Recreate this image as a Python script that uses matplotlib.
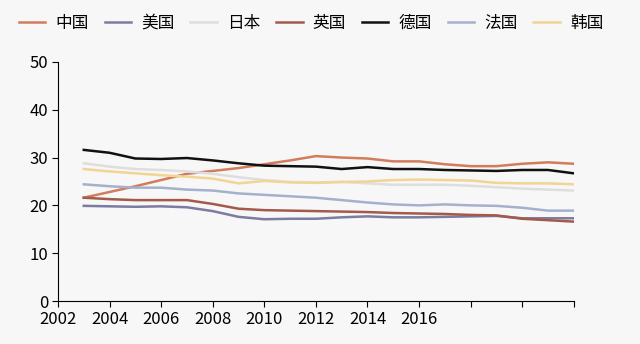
import numpy as np
import matplotlib.pyplot as plt

plt.rcParams['font.family'] = ['Noto Sans CJK SC', 'DejaVu Sans']

years = list(range(2003, 2023))

china   = [21.6, 22.8, 24.0, 25.3, 26.6, 27.2, 27.8, 28.6, 29.4, 30.3, 30.0, 29.8, 29.2, 29.2, 28.6, 28.2, 28.2, 28.7, 29.0, 28.7]
usa     = [19.9, 19.8, 19.7, 19.8, 19.6, 18.8, 17.6, 17.1, 17.2, 17.2, 17.5, 17.7, 17.5, 17.5, 17.6, 17.7, 17.8, 17.3, 17.3, 17.3]
japan   = [28.8, 28.1, 27.6, 27.4, 27.1, 26.6, 25.9, 25.3, 24.9, 24.8, 24.9, 24.6, 24.3, 24.3, 24.3, 24.1, 23.8, 23.5, 23.3, 23.1]
uk      = [21.6, 21.3, 21.1, 21.1, 21.1, 20.3, 19.3, 19.0, 18.9, 18.8, 18.7, 18.6, 18.4, 18.3, 18.2, 18.0, 17.9, 17.2, 16.9, 16.6]
germany = [31.6, 31.0, 29.8, 29.7, 29.9, 29.4, 28.8, 28.3, 28.2, 28.1, 27.6, 28.0, 27.6, 27.6, 27.4, 27.3, 27.2, 27.4, 27.4, 26.7]
france  = [24.4, 24.0, 23.7, 23.7, 23.3, 23.1, 22.5, 22.2, 21.9, 21.6, 21.1, 20.6, 20.2, 20.0, 20.2, 20.0, 19.9, 19.5, 18.9, 18.9]
korea   = [27.6, 27.1, 26.7, 26.3, 26.0, 25.6, 24.6, 25.1, 24.8, 24.7, 24.9, 25.0, 25.3, 25.4, 25.3, 25.2, 24.7, 24.6, 24.6, 24.4]

names = ['中国', '美国', '日本', '英国', '德国', '法国', '韩国']
colors = ['#d27c5c', '#7c7ca0', '#dedede', '#a35a4a', '#111111', '#a4b0cc', '#f2d494']
series = [china, usa, japan, uk, germany, france, korea]

xticks = list(range(2002, 2023, 2))
xlabels = [str(y) if y <= 2016 else '' for y in xticks]

fig = plt.figure(figsize=(6.4, 3.44), dpi=100, facecolor='#f7f7f7')
ax = fig.add_axes([0.0906, 0.125, 0.806, 0.695])
ax.set_facecolor('#f7f7f7')

for name, col, vals in zip(names, colors, series):
    ax.plot(years, vals, color=col, lw=1.8, label=name)

ax.set_xlim(2002, 2022)
ax.set_ylim(0, 50)
ax.set_xticks(xticks)
ax.set_xticklabels(xlabels)
ax.set_yticks(range(0, 51, 10))
ax.tick_params(labelsize=12, length=4, direction='out', pad=3)
for s in ['top', 'right']:
    ax.spines[s].set_visible(False)

fig.legend(loc='upper center', bbox_to_anchor=(0.486, 1.0), ncol=7, frameon=False,
           fontsize=12, handlelength=1.6, columnspacing=0.95, handletextpad=0.6)

fig.savefig('out.png', dpi=100, facecolor=fig.get_facecolor())
